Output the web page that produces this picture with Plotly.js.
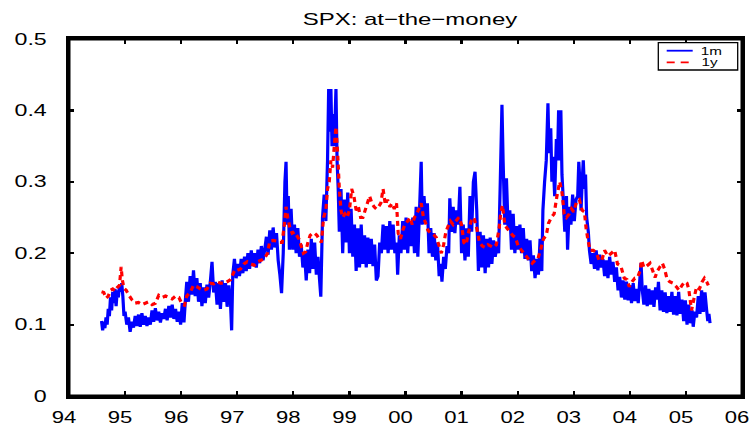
<!DOCTYPE html>
<html><head><meta charset="utf-8">
<script src="https://cdn.plot.ly/plotly-3.0.1.min.js"></script>
<style>html,body{margin:0;padding:0;background:#fff}#chart{width:753px;height:426px}</style>
</head><body><div id="chart"></div>
<script>
const chartTitle = "SPX: at\u2212the\u2212money";
const seriesNames = ["1m", "1y"];
const xTickVals = [1994,1995,1996,1997,1998,1999,2000,2001,2002,2003,2004,2005,2006];
const xTickText = ["94","95","96","97","98","99","00","01","02","03","04","05","06"];
const yTickVals = [0,0.1,0.2,0.3,0.4,0.5];
const yTickText = ["0","0.1","0.2","0.3","0.4","0.5"];

const dates1m = [
1994.58,1994.60,1994.62,1994.64,1994.66,1994.68,1994.70,1994.72,1994.74,1994.76,
1994.78,1994.80,1994.82,1994.84,1994.86,1994.88,1994.90,1994.92,1994.94,1994.96,
1994.98,1995.00,1995.03,1995.06,1995.09,1995.12,1995.15,1995.18,1995.21,1995.24,
1995.27,1995.30,1995.33,1995.36,1995.39,1995.42,1995.45,1995.48,1995.51,1995.54,
1995.57,1995.60,1995.63,1995.66,1995.69,1995.72,1995.75,1995.78,1995.81,1995.84,
1995.87,1995.90,1995.93,1995.96,1995.99,1996.02,1996.05,1996.08,1996.10,1996.13,
1996.16,1996.19,1996.22,1996.25,1996.28,1996.31,1996.34,1996.37,1996.40,1996.43,
1996.46,1996.49,1996.52,1996.55,1996.58,1996.61,1996.64,1996.67,1996.70,1996.73,
1996.76,1996.79,1996.82,1996.85,1996.88,1996.90,1996.92,1996.95,1996.98,1997.01,
1997.04,1997.07,1997.10,1997.13,1997.16,1997.19,1997.22,1997.25,1997.28,1997.31,
1997.34,1997.37,1997.40,1997.43,1997.46,1997.49,1997.52,1997.55,1997.58,1997.61,
1997.64,1997.67,1997.70,1997.73,1997.76,1997.79,1997.82,1997.85,1997.87,1997.89,
1997.91,1997.93,1997.96,1997.99,1998.02,1998.05,1998.08,1998.11,1998.14,1998.17,
1998.20,1998.23,1998.26,1998.29,1998.32,1998.35,1998.38,1998.41,1998.44,1998.47,
1998.49,1998.52,1998.55,1998.58,1998.61,1998.63,1998.65,1998.67,1998.69,1998.71,
1998.73,1998.76,1998.78,1998.80,1998.82,1998.85,1998.88,1998.91,1998.94,1998.97,
1999.00,1999.03,1999.06,1999.09,1999.12,1999.15,1999.18,1999.21,1999.24,1999.27,
1999.30,1999.33,1999.36,1999.39,1999.42,1999.45,1999.48,1999.51,1999.54,1999.57,
1999.60,1999.63,1999.66,1999.69,1999.72,1999.75,1999.78,1999.81,1999.84,1999.86,
1999.89,1999.92,1999.95,1999.98,2000.01,2000.04,2000.07,2000.10,2000.13,2000.16,
2000.19,2000.22,2000.25,2000.28,2000.30,2000.33,2000.36,2000.39,2000.42,2000.45,
2000.48,2000.51,2000.54,2000.57,2000.60,2000.63,2000.65,2000.68,2000.71,2000.74,
2000.77,2000.79,2000.82,2000.85,2000.88,2000.91,2000.94,2000.97,2001.00,2001.03,
2001.06,2001.09,2001.12,2001.15,2001.18,2001.21,2001.24,2001.27,2001.30,2001.33,
2001.36,2001.39,2001.42,2001.45,2001.48,2001.51,2001.54,2001.57,2001.60,2001.63,
2001.66,2001.69,2001.72,2001.74,2001.77,2001.80,2001.83,2001.86,2001.89,2001.92,
2001.95,2001.98,2002.01,2002.04,2002.07,2002.10,2002.13,2002.16,2002.19,2002.22,
2002.25,2002.28,2002.31,2002.34,2002.37,2002.40,2002.43,2002.45,2002.48,2002.51,
2002.54,2002.56,2002.59,2002.61,2002.63,2002.66,2002.69,2002.71,2002.73,2002.75,
2002.77,2002.79,2002.81,2002.84,2002.87,2002.89,2002.92,2002.95,2002.98,2003.01,
2003.04,2003.07,2003.09,2003.11,2003.13,2003.15,2003.17,2003.19,2003.21,2003.23,
2003.26,2003.28,2003.31,2003.34,2003.37,2003.40,2003.43,2003.46,2003.49,2003.52,
2003.55,2003.58,2003.61,2003.64,2003.67,2003.70,2003.73,2003.76,2003.79,2003.82,
2003.85,2003.88,2003.91,2003.94,2003.97,2004.00,2004.03,2004.06,2004.09,2004.12,
2004.15,2004.18,2004.20,2004.22,2004.25,2004.28,2004.31,2004.34,2004.37,2004.40,
2004.43,2004.46,2004.49,2004.51,2004.54,2004.57,2004.60,2004.63,2004.66,2004.69,
2004.72,2004.75,2004.78,2004.81,2004.84,2004.87,2004.90,2004.93,2004.96,2004.99,
2005.02,2005.05,2005.08,2005.11,2005.13,2005.16,2005.19,2005.22,2005.25,2005.28,
2005.31,2005.34,2005.37,2005.39,2005.41,2005.43
];
const vol1m = [
.105,.092,.104,.095,.110,.100,.122,.112,.138,.120,
.146,.130,.150,.126,.148,.138,.155,.146,.158,.140,
.112,.118,.100,.110,.090,.104,.096,.112,.098,.114,
.097,.116,.100,.112,.098,.110,.100,.120,.104,.123,
.106,.118,.103,.116,.108,.122,.106,.126,.110,.128,
.108,.122,.104,.118,.100,.130,.103,.140,.160,.132,
.168,.142,.176,.140,.165,.132,.158,.126,.152,.130,
.156,.138,.160,.188,.145,.160,.128,.158,.122,.162,
.132,.158,.125,.155,.130,.092,.170,.192,.165,.185,
.168,.192,.172,.195,.175,.200,.178,.204,.182,.200,
.180,.205,.186,.210,.190,.205,.223,.198,.232,.205,
.236,.208,.228,.190,.170,.144,.200,.300,.328,.240,
.280,.205,.262,.205,.240,.200,.235,.195,.212,.180,
.200,.162,.205,.172,.220,.178,.215,.170,.195,.160,
.139,.250,.282,.245,.330,.430,.370,.430,.350,.395,
.350,.430,.330,.290,.230,.290,.200,.275,.215,.285,
.200,.262,.195,.240,.175,.235,.180,.240,.185,.225,
.180,.222,.185,.220,.182,.212,.162,.168,.215,.200,
.240,.205,.238,.200,.245,.205,.240,.200,.215,.170,
.225,.200,.245,.205,.250,.200,.245,.210,.250,.200,
.265,.195,.260,.328,.240,.280,.245,.270,.200,.235,
.195,.228,.190,.215,.168,.185,.160,.195,.178,.210,
.200,.277,.230,.265,.228,.260,.240,.293,.200,.240,
.190,.235,.195,.280,.230,.300,.314,.260,.175,.230,
.180,.225,.172,.220,.180,.222,.185,.218,.195,.210,
.200,.300,.408,.330,.240,.305,.235,.260,.205,.255,
.200,.238,.205,.240,.200,.235,.192,.220,.190,.218,
.175,.197,.165,.192,.170,.220,.175,.260,.300,.330,
.410,.340,.375,.300,.335,.280,.360,.330,.400,.330,
.400,.310,.280,.230,.280,.205,.265,.240,.282,.245,
.275,.280,.328,.300,.260,.300,.330,.290,.310,.250,
.230,.204,.185,.200,.178,.204,.176,.198,.180,.192,
.168,.190,.165,.195,.170,.188,.160,.180,.148,.167,
.138,.162,.135,.160,.134,.155,.130,.158,.133,.150,
.130,.165,.186,.150,.128,.155,.126,.150,.128,.148,
.125,.152,.135,.160,.120,.148,.118,.145,.116,.140,
.118,.146,.114,.140,.113,.146,.115,.135,.105,.134,
.100,.128,.102,.120,.097,.118,.110,.140,.115,.148,
.118,.145,.120,.105,.115,.102
];

const dates1y = [
1994.58,1994.62,1994.66,1994.70,1994.74,1994.78,1994.82,1994.86,1994.90,1994.93,
1994.95,1994.98,1995.02,1995.06,1995.12,1995.18,1995.24,1995.30,1995.36,1995.42,
1995.48,1995.54,1995.60,1995.66,1995.72,1995.78,1995.84,1995.90,1995.96,1996.02,
1996.06,1996.10,1996.16,1996.22,1996.28,1996.34,1996.40,1996.46,1996.52,1996.58,
1996.64,1996.70,1996.76,1996.82,1996.88,1996.92,1996.96,1997.00,1997.06,1997.12,
1997.18,1997.24,1997.30,1997.36,1997.42,1997.48,1997.54,1997.58,1997.64,1997.70,
1997.76,1997.80,1997.84,1997.87,1997.90,1997.94,1997.98,1998.02,1998.06,1998.10,
1998.14,1998.18,1998.22,1998.26,1998.30,1998.34,1998.38,1998.42,1998.46,1998.50,
1998.54,1998.58,1998.61,1998.64,1998.67,1998.70,1998.73,1998.76,1998.79,1998.82,
1998.85,1998.88,1998.92,1998.96,1999.00,1999.04,1999.08,1999.12,1999.16,1999.20,
1999.24,1999.28,1999.32,1999.36,1999.40,1999.44,1999.48,1999.52,1999.56,1999.60,
1999.64,1999.68,1999.72,1999.76,1999.80,1999.84,1999.87,1999.91,1999.95,1999.99,
2000.04,2000.08,2000.12,2000.16,2000.20,2000.24,2000.28,2000.32,2000.36,2000.40,
2000.45,2000.50,2000.55,2000.60,2000.64,2000.68,2000.72,2000.76,2000.80,2000.85,
2000.90,2000.95,2001.00,2001.04,2001.08,2001.12,2001.17,2001.22,2001.27,2001.32,
2001.37,2001.42,2001.47,2001.52,2001.57,2001.62,2001.67,2001.70,2001.73,2001.77,
2001.81,2001.86,2001.91,2001.96,2002.01,2002.06,2002.11,2002.16,2002.21,2002.26,
2002.31,2002.36,2002.41,2002.46,2002.51,2002.55,2002.60,2002.65,2002.70,2002.75,
2002.79,2002.83,2002.87,2002.92,2002.96,2003.00,2003.05,2003.10,2003.15,2003.19,
2003.22,2003.25,2003.29,2003.35,2003.41,2003.45,2003.50,2003.55,2003.61,2003.67,
2003.73,2003.78,2003.84,2003.90,2003.95,2003.99,2004.04,2004.09,2004.14,2004.18,
2004.21,2004.25,2004.30,2004.36,2004.41,2004.45,2004.49,2004.53,2004.58,2004.62,
2004.66,2004.71,2004.77,2004.83,2004.88,2004.93,2004.98,2005.02,2005.05,2005.10,
2005.14,2005.19,2005.24,2005.29,2005.33,2005.37,2005.40
];
const vol1y = [
.146,.145,.137,.140,.148,.150,.147,.152,.155,.181,
.163,.151,.148,.142,.135,.130,.131,.128,.130,.132,
.128,.130,.141,.138,.140,.138,.136,.140,.138,.128,
.127,.140,.145,.155,.153,.150,.148,.150,.158,.157,
.160,.158,.158,.160,.163,.170,.177,.176,.178,.185,
.188,.185,.183,.188,.190,.192,.200,.217,.218,.217,
.215,.215,.240,.265,.250,.235,.228,.230,.225,.220,
.210,.200,.202,.215,.225,.228,.228,.225,.220,.215,
.250,.260,.290,.300,.330,.320,.350,.377,.340,.290,
.260,.250,.255,.250,.260,.290,.280,.260,.265,.250,
.250,.260,.270,.280,.270,.265,.262,.265,.270,.290,
.268,.275,.265,.270,.262,.270,.228,.220,.232,.240,
.245,.250,.240,.250,.255,.262,.270,.250,.242,.232,
.228,.226,.222,.210,.200,.212,.230,.238,.245,.240,
.245,.250,.240,.215,.212,.228,.245,.250,.235,.215,
.210,.208,.212,.210,.208,.212,.235,.258,.267,.240,
.235,.230,.225,.222,.210,.205,.200,.195,.190,.186,
.190,.192,.205,.220,.225,.242,.250,.255,.280,.300,
.285,.255,.250,.255,.262,.258,.272,.275,.260,.258,
.235,.220,.204,.204,.200,.190,.190,.204,.196,.200,
.204,.185,.182,.165,.163,.153,.160,.165,.166,.175,
.190,.180,.182,.186,.175,.166,.175,.180,.186,.178,
.165,.160,.158,.153,.148,.155,.160,.158,.150,.120,
.135,.153,.150,.160,.165,.160,.155
];

function paired(xs, ys) {
  const n = Math.min(xs.length, ys.length);
  return [xs.slice(0, n), ys.slice(0, n)];
}
const [x1m, y1m] = paired(dates1m, vol1m);
const [x1y, y1y] = paired(dates1y, vol1y);

const L = 69, R = 742, T = 39, B = 396, W = 753, H = 426;
const px = v => (v - L) / (R - L);
const py = v => (B - v) / (B - T);

const traces = [
  {x: x1m, y: y1m, name: seriesNames[0], type: 'scatter', mode: 'lines',
   line: {color: '#0000ff', width: 3.2, simplify: false}, showlegend: false},
  {x: x1y, y: y1y, name: seriesNames[1], type: 'scatter', mode: 'lines',
   line: {color: '#ff0000', width: 3.2, dash: '5px,4px', simplify: false}, showlegend: false}
];

const axisCommon = {
  showline: true, linecolor: '#000', linewidth: 3, mirror: 'ticks',
  ticks: 'inside', ticklen: 5, tickwidth: 2.2, tickcolor: '#000',
  showgrid: false, zeroline: false, fixedrange: true,
  tickfont: {family: 'Liberation Sans, Arial, sans-serif', size: 16, color: '#000'}
};

const layout = {
  width: W, height: H,
  margin: {l: L, r: W - R, t: T, b: H - B, pad: 0},
  paper_bgcolor: '#fff', plot_bgcolor: '#fff',
  title: {text: chartTitle, x: px(410), xref: 'paper', xanchor: 'center',
          y: 1 - 19 / H, yref: 'container', yanchor: 'middle',
          font: {family: 'Liberation Sans, Arial, sans-serif', size: 17, color: '#000'}},
  xaxis: Object.assign({}, axisCommon, {range: [1994, 2006], tickmode: 'array',
          tickvals: xTickVals, ticktext: xTickText, ticklabelstandoff: 5}),
  yaxis: Object.assign({}, axisCommon, {range: [0, 0.5], tickmode: 'array',
          tickvals: yTickVals, ticktext: yTickText, ticklabelstandoff: 16}),
  shapes: [
    {type: 'rect', xref: 'paper', yref: 'paper', x0: 0, x1: 1, y0: 0, y1: 1,
     line: {color: '#000', width: 3}, fillcolor: 'rgba(0,0,0,0)', layer: 'above'},
    {type: 'rect', xref: 'paper', yref: 'paper', x0: px(658.3), x1: px(737.7), y0: py(70), y1: py(42.7),
     line: {color: '#000', width: 1.3}, fillcolor: '#fff', layer: 'above'},
    {type: 'line', xref: 'paper', yref: 'paper', x0: px(666.7), x1: px(692.7), y0: py(50.7), y1: py(50.7),
     line: {color: '#0000ff', width: 1.8}, layer: 'above'},
    {type: 'line', xref: 'paper', yref: 'paper', x0: px(666.7), x1: px(692.7), y0: py(62.3), y1: py(62.3),
     line: {color: '#ff0000', width: 1.8, dash: '8px,6px'}, layer: 'above'}
  ],
  annotations: [
    {xref: 'paper', yref: 'paper', x: px(701.5), y: py(50.7), xanchor: 'left', yanchor: 'middle',
     text: seriesNames[0], showarrow: false, font: {family: 'Liberation Sans, Arial, sans-serif', size: 10.5, color: '#000'}},
    {xref: 'paper', yref: 'paper', x: px(701.5), y: py(62.3), xanchor: 'left', yanchor: 'middle',
     text: seriesNames[1], showarrow: false, font: {family: 'Liberation Sans, Arial, sans-serif', size: 10.5, color: '#000'}}
  ],
  showlegend: false
};

function stretch(sel, k) {
  document.querySelectorAll(sel).forEach(el => {
    try {
      const len = el.getComputedTextLength();
      if (len > 0) {
        el.setAttribute('textLength', (len * k).toFixed(2));
        el.setAttribute('lengthAdjust', 'spacingAndGlyphs');
      }
    } catch (e) {}
  });
}

Plotly.newPlot('chart', traces, layout, {displayModeBar: false, staticPlot: true}).then(() => {
  stretch('#chart .xtick text', 1.38);
  stretch('#chart .ytick text', 1.45);
  stretch('#chart .gtitle', 1.41);
  stretch('#chart .annotation-text', 1.45);
  document.querySelectorAll('#chart .xtick text').forEach(el => {
    el.setAttribute('x', (parseFloat(el.getAttribute('x') || 0) - 5).toString());
  });
});
</script>
</body></html>
